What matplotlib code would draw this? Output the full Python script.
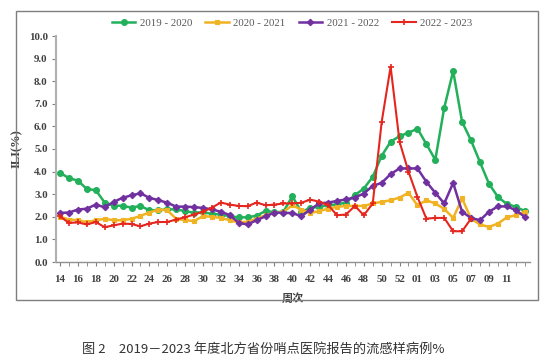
import matplotlib
matplotlib.use("Agg")
import matplotlib.pyplot as plt
from matplotlib.patches import Rectangle

# 周次: 14..53, then 01..13
weeks = [str(w) for w in range(14, 54)] + ["%02d" % w for w in range(1, 14)]

ili_1920 = [3.95, 3.71, 3.60, 3.23, 3.18, 2.63, 2.50, 2.48, 2.41, 2.48,
            2.29, 2.29, 2.33, 2.33, 2.25, 2.18, 2.20, 2.13, 2.10, 2.03,
            1.97, 1.98, 2.05, 2.26, 2.20, 2.22, 2.91, 2.22, 2.39, 2.44,
            2.51, 2.55, 2.63, 2.96, 3.25, 3.77, 4.70, 5.32, 5.57, 5.72,
            5.90, 5.22, 4.52, 6.82, 8.45, 6.20, 5.38, 4.42, 3.47, 2.88,
            2.57, 2.44, 2.26]
ili_2021 = [2.00, 1.88, 1.85, 1.76, 1.85, 1.91, 1.85, 1.85, 1.91, 2.04,
            2.19, 2.32, 2.29, 1.91, 1.85, 1.81, 2.03, 2.00, 1.95, 1.85,
            1.75, 1.78, 1.92, 2.07, 2.17, 2.22, 2.51, 2.32, 2.17, 2.25,
            2.36, 2.44, 2.48, 2.48, 2.48, 2.59, 2.66, 2.73, 2.85, 3.06,
            2.51, 2.73, 2.59, 2.35, 1.95, 2.81, 1.92, 1.66, 1.55, 1.70,
            1.97, 2.07, 2.22]
ili_2122 = [2.17, 2.19, 2.32, 2.36, 2.54, 2.42, 2.66, 2.84, 2.95, 3.04,
            2.84, 2.74, 2.62, 2.45, 2.45, 2.43, 2.39, 2.33, 2.22, 2.08,
            1.73, 1.66, 1.85, 2.02, 2.19, 2.17, 2.17, 2.02, 2.32, 2.59,
            2.63, 2.70, 2.77, 2.85, 3.03, 3.37, 3.50, 3.89, 4.14, 4.14,
            4.14, 3.55, 3.06, 2.59, 3.50, 2.22, 1.95, 1.85, 2.22, 2.46,
            2.46, 2.30, 2.00]
ili_2223 = [2.02, 1.73, 1.75, 1.66, 1.77, 1.54, 1.62, 1.70, 1.68, 1.58,
            1.70, 1.77, 1.77, 1.88, 1.98, 2.10, 2.22, 2.41, 2.63, 2.54,
            2.48, 2.47, 2.63, 2.51, 2.54, 2.59, 2.59, 2.62, 2.76, 2.67,
            2.52, 2.07, 2.10, 2.48, 2.07, 2.59, 6.20, 8.64, 5.32, 4.00,
            2.88, 1.92, 1.95, 1.95, 1.36, 1.36, 1.92]

series = [
    ("2019 - 2020", ili_1920, "#22b05a", "o", 4.2, 1.8),
    ("2020 - 2021", ili_2021, "#f0b323", "s", 3.0, 1.8),
    ("2021 - 2022", ili_2122, "#7030a0", "D", 3.3, 1.8),
    ("2022 - 2023", ili_2223, "#e5261e", "+", 4.5, 1.5),
]

plt.rcParams["font.family"] = ["Liberation Serif", "DejaVu Serif"]

fig = plt.figure(figsize=(5.54, 3.63), dpi=100)
W, H = 554, 363
ax = fig.add_axes([56 / W, 1 - 262 / H, 474 / W, 226 / H])

# outer frame of the chart area
fig.patches.append(Rectangle((16 / W, 1 - 300 / H), 522 / W, 289 / H,
                             transform=fig.transFigure, fill=False,
                             edgecolor="#7f7f7f", linewidth=1))

for name, vals, col, mk, ms, lw in series:
    x = list(range(len(vals)))
    ax.plot(x, vals, color=col, marker=mk, markersize=ms, linewidth=lw,
            markeredgewidth=1.2 if mk == "+" else 0.8, label=name)

ax.set_ylim(0, 10)
ax.set_xlim(-0.45, 52.6)
ax.set_yticks([i for i in range(11)])
ax.set_yticklabels(["%.1f" % i for i in range(11)])
ax.set_xticks(list(range(0, 51, 2)))
ax.set_xticklabels(weeks[0:51:2])
ax.set_xticks(list(range(len(weeks))), minor=True)

for s in ["top", "right"]:
    ax.spines[s].set_visible(False)
ax.spines["left"].set_color("#b0b0b0")
ax.spines["left"].set_linewidth(1.5)
ax.spines["bottom"].set_color("#909090")
ax.spines["bottom"].set_linewidth(1)
ax.tick_params(axis="both", which="both", color="#808080", labelsize=7.8,
               labelcolor="#404040", direction="out")
ax.tick_params(axis="x", which="major", length=3, pad=6)
ax.tick_params(axis="x", which="minor", length=3)
ax.tick_params(axis="y", length=3, pad=3)
for lab in ax.get_xticklabels() + ax.get_yticklabels():
    lab.set_fontweight("bold")

ax.set_ylabel("ILI(%)", fontsize=9, fontweight="bold", color="#404040",
              labelpad=4)
ax.set_xlabel("周次", family=["Noto Sans CJK SC", "DejaVu Sans"], fontsize=8,
              fontweight="bold", color="#404040", labelpad=6)

fig.legend(loc="center", bbox_to_anchor=(292 / W, 1 - 23 / H), ncol=4,
           frameon=False, fontsize=7.8, labelcolor="#595959",
           handlelength=2.2, handletextpad=0.4, columnspacing=1.2)

fig.text(263 / W, 1 - 349 / H,
         "图 2　2019－2023 年度北方省份哨点医院报告的流感样病例%",
         family=["Noto Sans CJK SC", "DejaVu Sans"], fontsize=9.5,
         ha="center", va="center", color="#333333")

fig.savefig("out.png", dpi=100)
